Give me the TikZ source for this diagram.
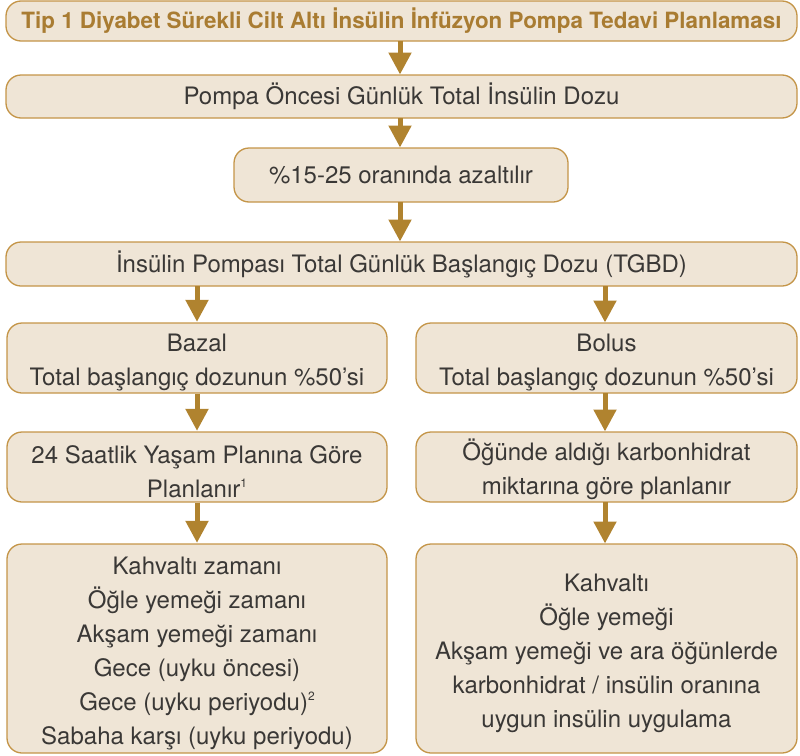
\documentclass[tikz,border=0pt]{standalone}
\usepackage{fontspec}
\setmainfont{TeX Gyre Heros}
\usetikzlibrary{arrows.meta}
\definecolor{boxfill}{HTML}{EFE5D6}
\definecolor{boxline}{HTML}{C49548}
\definecolor{arrowc}{HTML}{B0832F}
\definecolor{titlec}{HTML}{A97C32}
\definecolor{textc}{HTML}{3A3836}
% small raised footnote numbers
\newcommand{\supnum}[1]{\raisebox{0.4em}{\fontsize{12}{12}\selectfont #1}}
% taller first line so stacked text sits a little lower in its box
\newcommand{\firstline}{\rule{0pt}{27pt}}
\tikzset{
  stepbox/.style={draw=boxline, fill=boxfill, line width=1.3pt, rounded corners=15pt,
    inner sep=0pt, align=center, text=textc,
    font=\fontsize{24}{34}\selectfont},
  flowarrow/.style={draw=arrowc, line width=5pt,
    -{Triangle[width=22pt,length=22pt]}, shorten >=0.5pt}
}
\begin{document}
\begin{tikzpicture}[x=1pt,y=-1pt]
\useasboundingbox (0,0) rectangle (800,755);
% top chain
\node[stepbox, minimum width=791pt, minimum height=40pt, text=titlec,
  font=\bfseries\fontsize{22.4}{26}\selectfont] (title) at (401.5,21)
  {Tip 1 Diyabet Sürekli Cilt Altı İnsülin İnfüzyon Pompa Tedavi Planlaması};
\node[stepbox, minimum width=791pt, minimum height=43pt] (pre) at (401.5,96.5)
  {Pompa Öncesi Günlük Total İnsülin Dozu};
\node[stepbox, minimum width=334pt, minimum height=54pt] (red) at (401,175)
  {\%15-25 oranında azaltılır};
\node[stepbox, minimum width=791pt, minimum height=44pt] (tgbd) at (401.5,264)
  {İnsülin Pompası Total Günlük Başlangıç Dozu (TGBD)};
% basal branch
\node[stepbox, minimum width=380pt, minimum height=70pt] (bazal) at (197,358)
  {\firstline Bazal\\Total başlangıç dozunun \%50’si};
\node[stepbox, minimum width=380pt, minimum height=70pt] (planL) at (197,467)
  {\firstline 24 Saatlik Yaşam Planına Göre\\Planlanır\supnum{1}};
\node[stepbox, minimum width=380pt, minimum height=209pt] (listL) at (197,648.5)
  {\firstline Kahvaltı zamanı\\Öğle yemeği zamanı\\Akşam yemeği zamanı\\Gece (uyku öncesi)\\
   Gece (uyku periyodu)\supnum{2}\\Sabaha karşı (uyku periyodu)};
% bolus branch
\node[stepbox, minimum width=381pt, minimum height=70pt] (bolus) at (606.5,358)
  {\firstline Bolus\\Total başlangıç dozunun \%50’si};
\node[stepbox, minimum width=381pt, minimum height=70pt] (planR) at (606.5,467)
  {\firstline Öğünde aldığı karbonhidrat\\miktarına göre planlanır};
\node[stepbox, minimum width=381pt, minimum height=209pt] (listR) at (606.5,648.5)
  {\firstline Kahvaltı\\Öğle yemeği\\Akşam yemeği ve ara öğünlerde\\karbonhidrat / insülin oranına\\uygun insülin uygulama};
% connectors
\draw[flowarrow] (400,41) -- (400,75);
\draw[flowarrow] (400,118) -- (400,148);
\draw[flowarrow] (400,202) -- (400,242);
\draw[flowarrow] (197,286) -- (bazal.north);
\draw[flowarrow] (bazal.south) -- (planL.north);
\draw[flowarrow] (planL.south) -- (listL.north);
\draw[flowarrow] (605,286) -- (605,323);
\draw[flowarrow] (605,393) -- (605,432);
\draw[flowarrow] (605,502) -- (605,544);
\end{tikzpicture}
\end{document}
